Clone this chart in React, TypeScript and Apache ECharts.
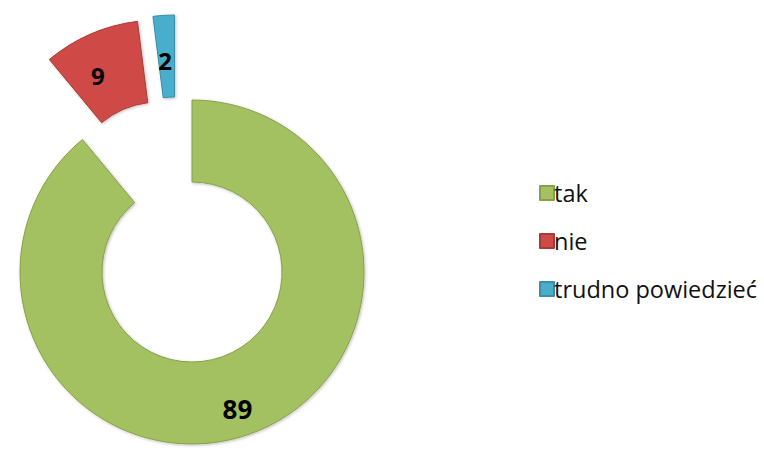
import React, { useEffect, useRef } from "react";
import * as echarts from "echarts";

const categories = ["tak", "nie", "trudno powiedzieć"];
const values = [89, 9, 2];
const colors = ["#a3c160", "#cf4a46", "#4aaecb"];
const borderColors = ["#86a148", "#a83a36", "#3a8ea8"];
// per-slice layout: donut centre (px) after explosion, label shift tweaks
const centers = [
  [192, 272],
  [159, 192],
  [174.5, 187],
];
const labelDown = [22, 12, 14];
const labelLeftPad = [0, 16, 2];
const labelSizes = [26, 24, 24];

export default function App() {
  const ref = useRef<HTMLDivElement>(null);
  useEffect(() => {
    document.body.style.margin = "0";
    const chart = echarts.init(ref.current!, null, { renderer: "svg" });
    const series = categories.map((_, i) => ({
      type: "pie",
      center: centers[i],
      radius: [90, 172],
      startAngle: 90,
      clockwise: true,
      silent: true,
      avoidLabelOverlap: false,
      emphasis: { disabled: true },
      labelLine: { show: false },
      data: values.map((v, j) => ({
        name: j === i ? categories[j] : `_${i}_${j}`,
        value: v,
        itemStyle:
          j === i
            ? {
                color: colors[j],
                borderColor: borderColors[j],
                borderWidth: 1,
                shadowColor: "rgba(0,0,0,0.25)",
                shadowBlur: 3,
                shadowOffsetX: 1,
                shadowOffsetY: 1,
              }
            : { color: "rgba(0,0,0,0)", borderWidth: 0 },
        label: j === i
          ? {
              show: true,
              position: "inside",
              formatter: "{t| }\n{v|{c}}{p| }",
              rich: {
                t: { fontSize: 2, lineHeight: labelDown[j], height: labelDown[j] },
                v: {
                  fontFamily: "Open Sans",
                  fontWeight: "bold",
                  fontSize: labelSizes[j],
                  lineHeight: labelSizes[j],
                  color: "#000",
                },
                p: { fontSize: 2, width: labelLeftPad[j] },
              },
            }
          : { show: false },
      })),
    }));
    chart.setOption({
      animation: false,
      backgroundColor: "#ffffff",
      legend: {
        data: categories,
        orient: "vertical",
        left: 534,
        top: 176,
        itemWidth: 14,
        itemHeight: 14,
        itemGap: 24,
        icon: "rect",
        selectedMode: false,
        textStyle: {
          fontFamily: "Open Sans",
          fontSize: 23.5,
          lineHeight: 24,
          color: "#111",
          padding: [0, 0, 0, -5],
        },
      },
      series,
    });
    return () => chart.dispose();
  }, []);
  return (
    <div
      ref={ref}
      style={{ position: "absolute", left: 0, top: 0, width: 764, height: 455 }}
    />
  );
}
